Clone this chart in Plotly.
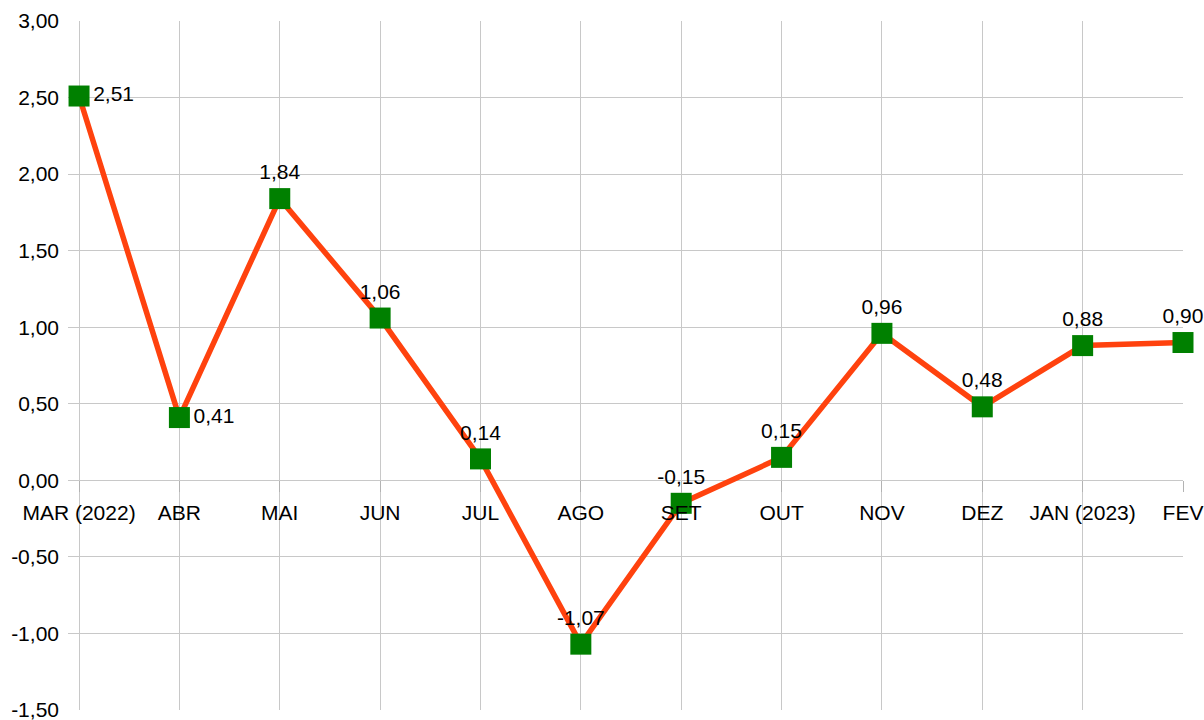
import plotly.graph_objects as go

months = ["MAR (2022)", "ABR", "MAI", "JUN", "JUL", "AGO", "SET", "OUT", "NOV", "DEZ", "JAN (2023)", "FEV"]
values = [2.51, 0.41, 1.84, 1.06, 0.14, -1.07, -0.15, 0.15, 0.96, 0.48, 0.88, 0.90]
label_pos = ["middle right", "middle right"] + ["top center"] * 10
y_ticks = [-1.5, -1.0, -0.5, 0.0, 0.5, 1.0, 1.5, 2.0, 2.5, 3.0]

fmt = lambda v: f"{v:.2f}".replace(".", ",")
labels = [fmt(v) for v in values]
y_ticktext = [fmt(v) for v in y_ticks]
idx = list(range(len(months)))

FONT = "Liberation Sans, Arial, sans-serif"

fig = go.Figure()
fig.add_trace(go.Scatter(
    x=idx, y=values,
    mode="lines+markers+text",
    line=dict(color="#ff420e", width=5.5),
    marker=dict(symbol="square", size=21, color="#008000"),
    text=labels, textposition=label_pos,
    textfont=dict(family=FONT, size=21, color="#000000"),
    cliponaxis=False,
    hoverinfo="skip",
))

fig.update_layout(
    width=1204, height=720,
    margin=dict(l=68, r=21, t=21, b=10, autoexpand=False),
    plot_bgcolor="white", paper_bgcolor="white",
    showlegend=False,
    font=dict(family=FONT, size=21, color="#000000"),
    xaxis=dict(
        range=[-0.11, 11], tickmode="array", tickvals=idx, ticktext=months,
        showgrid=True, gridcolor="#c8c8c8", gridwidth=1,
        zeroline=False, showline=False, automargin=False,
        anchor="free", position=1/3,
        ticks="outside", ticklen=11, tickcolor="#b3b3b3", tickwidth=1,
        ticklabelstandoff=2, ticklabeloverflow="allow",
        tickfont=dict(size=21),
    ),
    yaxis=dict(
        range=[-1.5, 3.0], tickmode="array", tickvals=y_ticks, ticktext=y_ticktext,
        automargin=False,
        showgrid=True, gridcolor="#c8c8c8", gridwidth=1,
        zeroline=True, zerolinecolor="#c8c8c8", zerolinewidth=1,
        showline=False, ticks="", ticklabelstandoff=8,
        ticklabeloverflow="allow",
        tickfont=dict(size=21),
    ),
)

fig.write_html(
    "out.html",
    config={"displayModeBar": False},
    post_script="document.body.style.margin='0';document.body.style.overflow='hidden';",
)
